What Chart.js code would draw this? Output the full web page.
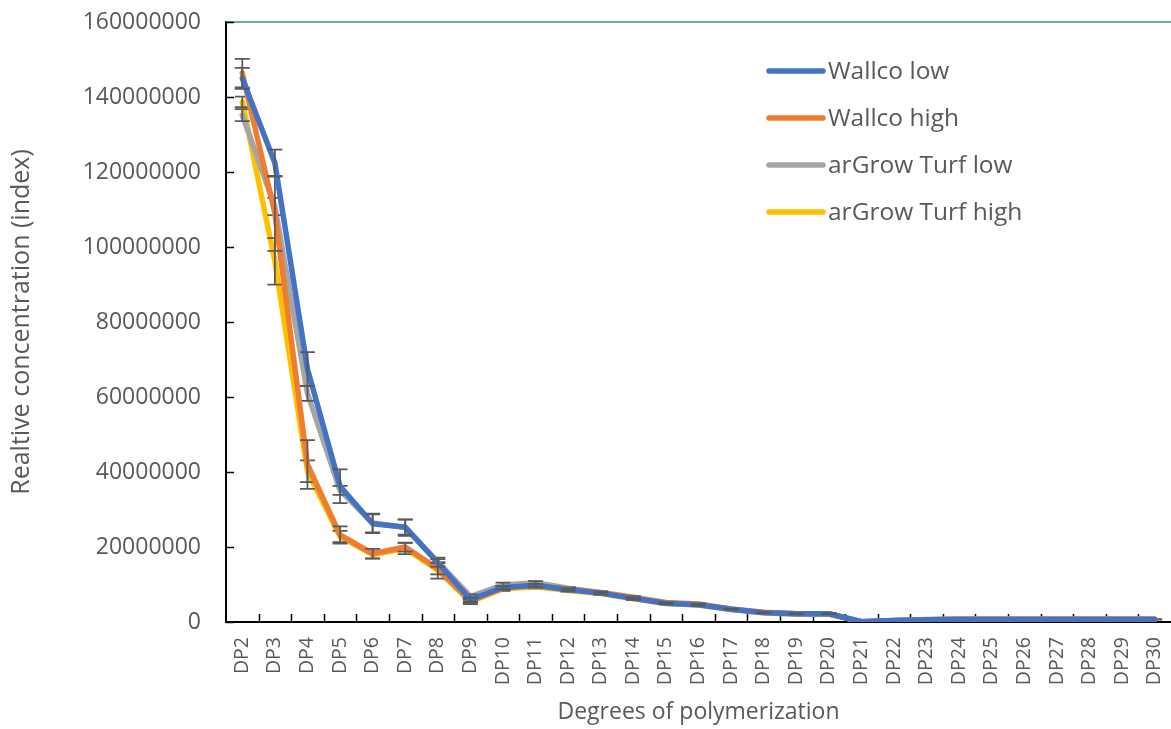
<!DOCTYPE html>
<html>
<head>
<meta charset="utf-8">
<script src="https://cdn.jsdelivr.net/npm/chart.js@4/dist/chart.umd.min.js"></script>
<style>
  html, body { margin: 0; padding: 0; background: #ffffff; }
  #wrap { width: 1171px; height: 729px; }
</style>
</head>
<body>
<div id="wrap"><canvas id="chart" width="1171" height="729"></canvas></div>
<script>
// Degrees of polymerization on the x axis
const categories = ['DP2','DP3','DP4','DP5','DP6','DP7','DP8','DP9','DP10','DP11','DP12','DP13','DP14','DP15','DP16',
  'DP17','DP18','DP19','DP20','DP21','DP22','DP23','DP24','DP25','DP26','DP27','DP28','DP29','DP30'];

// Series values, in millions of index units
const UNIT = 1e6;
const wallcoLow   = [145.0, 122.4, 67.5, 36.2, 26.2, 25.3, 15.8, 6.0, 9.2, 9.8, 8.6, 7.7, 6.3, 5.0, 4.6, 3.4, 2.5, 2.2, 2.2, 0.1, 0.4, 0.6, 0.7, 0.7, 0.7, 0.7, 0.7, 0.7, 0.7];
const wallcoHigh  = [146.4, 109.0, 42.0, 23.2, 18.2, 20.0, 14.2, 5.6, 9.1, 9.7, 8.8, 7.9, 6.6, 5.2, 4.8, 3.5, 2.6, 2.2, 2.2, 0.1, 0.4, 0.7, 0.8, 0.8, 0.8, 0.8, 0.8, 0.8, 0.8];
const argrowLow   = [135.2, 110.8, 61.0, 35.1, 26.4, 25.2, 16.0, 6.8, 9.9, 10.5, 9.0, 7.8, 6.4, 5.0, 4.6, 3.4, 2.5, 2.2, 2.2, 0.1, 0.4, 0.6, 0.7, 0.7, 0.7, 0.7, 0.7, 0.7, 0.7];
const argrowHigh  = [138.7, 96.2, 40.2, 22.8, 18.0, 19.6, 13.8, 5.4, 8.8, 9.4, 8.4, 7.6, 6.2, 4.9, 4.5, 3.3, 2.4, 2.1, 2.1, 0.1, 0.3, 0.6, 0.7, 0.7, 0.7, 0.7, 0.7, 0.7, 0.7];

// Standard errors, in millions (0 = no bar drawn)
const wallcoLowErr  = [2.8, 3.6, 4.5, 4.5, 2.5, 2.0, 1.0, 0.5, 0.4, 0.4, 0.3, 0.3, 0.3, 0.2, 0.2, 0.1, 0.1, 0.1, 0.1, 0, 0, 0, 0, 0, 0, 0, 0, 0, 0];
const wallcoHighErr = [3.8, 10.0, 6.5, 2.3, 1.3, 1.2, 1.5, 0.5, 0.5, 0.4, 0.3, 0.3, 0.3, 0.2, 0.2, 0.1, 0.1, 0.1, 0.1, 0, 0, 0, 0, 0, 0, 0, 0, 0, 0];
const argrowLowErr  = [1.6, 2.3, 2.0, 1.2, 2.5, 2.2, 1.2, 0.6, 0.6, 0.4, 0.3, 0.3, 0.3, 0.2, 0.2, 0.1, 0.1, 0.1, 0.1, 0, 0, 0, 0, 0, 0, 0, 0, 0, 0];
const argrowHighErr = [1.4, 6.2, 2.9, 1.5, 1.0, 1.5, 2.2, 0.6, 0.5, 0.4, 0.3, 0.3, 0.3, 0.2, 0.2, 0, 0, 0, 0, 0, 0, 0, 0, 0, 0, 0, 0, 0, 0.05];

const seriesNames = ['Wallco low', 'Wallco high', 'arGrow Turf low', 'arGrow Turf high'];
const seriesColors = ['#4472C4', '#ED7D31', '#A5A5A5', '#FFC000'];
const seriesValues = [wallcoLow, wallcoHigh, argrowLow, argrowHigh];
const seriesErrors = [wallcoLowErr, wallcoHighErr, argrowLowErr, argrowHighErr];

// y axis
const yMin = 0, yMax = 160000000, yStep = 20000000;

const FONT = "'Open Sans', 'Liberation Sans', sans-serif";
const TEXT = '#595959';
const LINE_W = 5.5;

// Vertical error bars with caps, drawn right after each series line
const errorBarsPlugin = {
  id: 'errorBars',
  afterDatasetDraw(chart, args) {
    const ds = chart.data.datasets[args.index];
    if (!ds.errors) return;
    const yScale = chart.scales.y;
    const ctx = chart.ctx;
    ctx.save();
    ctx.strokeStyle = '#595959';
    ctx.lineWidth = 1.75;
    const cap = 7.5;
    args.meta.data.forEach((pt, i) => {
      const v = ds.data[i], e = ds.errors[i];
      if (!e) return;
      const yt = yScale.getPixelForValue(v + e);
      const yb = yScale.getPixelForValue(Math.max(0, v - e));
      const x = pt.x;
      ctx.beginPath();
      ctx.moveTo(x, yt); ctx.lineTo(x, yb);
      ctx.moveTo(x - cap, yt); ctx.lineTo(x + cap, yt);
      ctx.moveTo(x - cap, yb); ctx.lineTo(x + cap, yb);
      ctx.stroke();
    });
    ctx.restore();
  }
};

// Inward tick marks, top frame line and the legend
const framePlugin = {
  id: 'frame',
  beforeDatasetsDraw(chart) {
    const { ctx, chartArea: a, scales: { x, y } } = chart;
    ctx.save();
    // top frame line
    ctx.strokeStyle = '#3f8f7e';
    ctx.lineWidth = 1.5;
    ctx.beginPath();
    ctx.moveTo(a.left, a.top); ctx.lineTo(a.right, a.top);
    ctx.stroke();
    // inward ticks
    ctx.strokeStyle = '#000000';
    ctx.lineWidth = 1.5;
    const len = 8;
    ctx.beginPath();
    y.ticks.forEach(t => {
      const py = Math.round(y.getPixelForValue(t.value)) + 0.5;
      ctx.moveTo(a.left, py); ctx.lineTo(a.left + len, py);
    });
    const n = x.ticks.length;
    const w = (x.right - x.left) / n;
    for (let i = 1; i < n; i++) {
      const px = Math.round(x.left + i * w) + 0.5;
      ctx.moveTo(px, a.bottom); ctx.lineTo(px, a.bottom - len);
    }
    ctx.stroke();
    ctx.restore();
  },
  afterDraw(chart) {
    const { ctx, chartArea: a } = chart;
    ctx.save();
    const x0 = a.left + 543, x1 = a.left + 597, tx = a.left + 602;
    const top = a.top + 49, gap = 47;
    ctx.font = `24.5px ${FONT}`;
    ctx.fillStyle = TEXT;
    ctx.textBaseline = 'middle';
    ctx.lineCap = 'round';
    chart.data.datasets.forEach((ds, i) => {
      const yy = top + i * gap;
      ctx.strokeStyle = ds.borderColor;
      ctx.lineWidth = LINE_W;
      ctx.beginPath();
      ctx.moveTo(x0, yy); ctx.lineTo(x1, yy);
      ctx.stroke();
      ctx.fillText(ds.label, tx, yy + 1);
    });
    ctx.restore();
  }
};

const datasets = seriesNames.map((name, i) => ({
  label: name,
  data: seriesValues[i].map(v => v * UNIT),
  errors: seriesErrors[i].map(v => v * UNIT),
  borderColor: seriesColors[i],
  backgroundColor: seriesColors[i],
  borderWidth: LINE_W,
  borderJoinStyle: 'round',
  borderCapStyle: 'round',
  pointRadius: 0,
  pointHoverRadius: 0,
  tension: 0,
  fill: false
}));

new Chart(document.getElementById('chart'), {
  type: 'line',
  data: { labels: categories, datasets },
  plugins: [framePlugin, errorBarsPlugin],
  options: {
    responsive: false,
    animation: false,
    devicePixelRatio: 1,
    layout: { padding: { top: 22, right: 0, bottom: 0, left: 0 } },
    plugins: { legend: { display: false }, tooltip: { enabled: false } },
    scales: {
      x: {
        offset: true,
        grid: { display: false, drawTicks: false },
        border: { display: true, color: '#000000', width: 2 },
        ticks: {
          autoSkip: false, maxRotation: 90, minRotation: 90, padding: 15,
          color: TEXT, font: { family: FONT, size: 19.5 }
        },
        title: {
          display: true, text: 'Degrees of polymerization', color: TEXT,
          font: { family: FONT, size: 23 }, padding: { top: 0, bottom: 3 }
        },
        afterFit(scale) {
          scale.height = 107;
          // the plot runs right up to the canvas edge
          scale.paddingRight = 0;
          scale.paddingLeft = 0;
        }
      },
      y: {
        min: yMin, max: yMax,
        // invisible tick marks keep the labels clear of the axis line
        grid: { display: true, drawOnChartArea: false, drawTicks: true, tickLength: 25, color: 'rgba(0,0,0,0)' },
        border: { display: true, color: '#000000', width: 2 },
        ticks: {
          stepSize: yStep, padding: 0, color: TEXT,
          font: { family: FONT, size: 23 },
          callback: v => String(v)
        },
        title: {
          display: true, text: 'Realtive concentration (index)', color: TEXT,
          font: { family: FONT, size: 25 }, padding: { top: 7, bottom: 0 }
        },
        afterFit(scale) { scale.width = 226; }
      }
    }
  }
});
</script>
</body>
</html>
